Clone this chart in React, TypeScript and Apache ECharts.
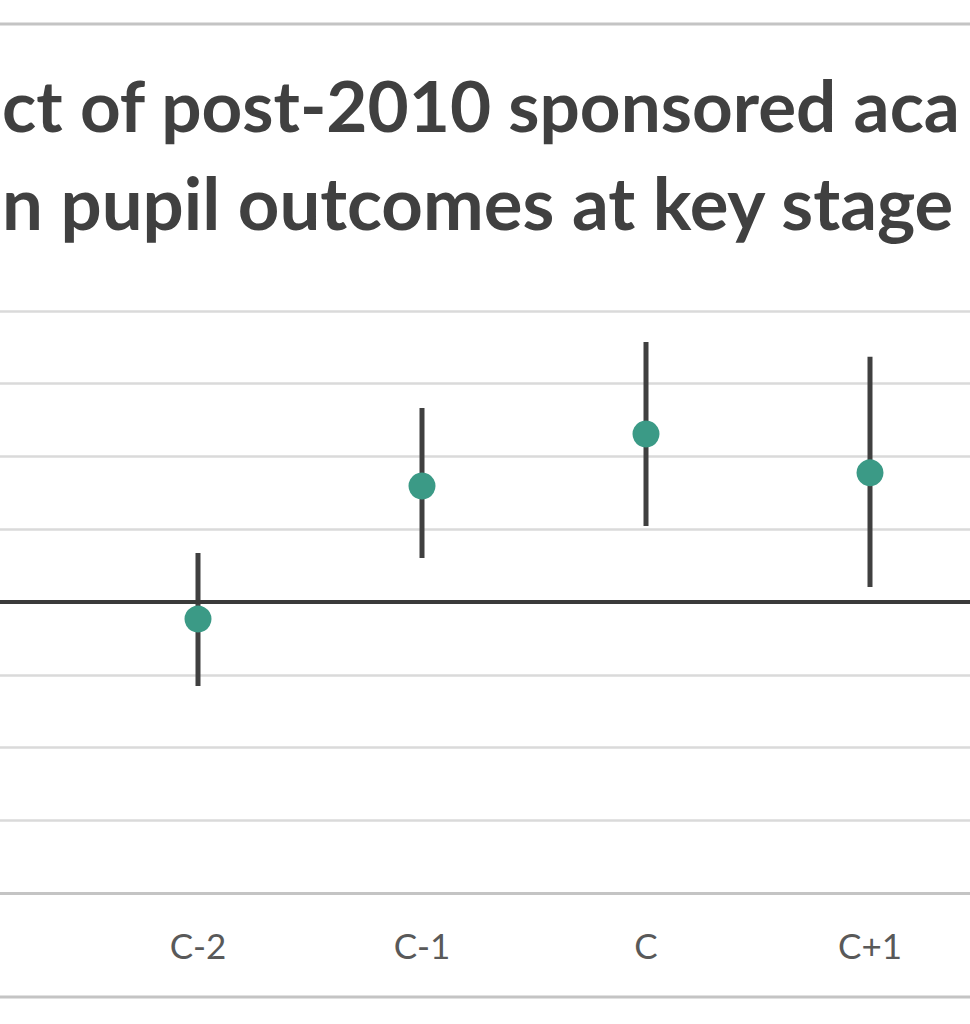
import React, { useEffect, useRef } from "react";
import * as echarts from "echarts";

const categories = ["C-3", "C-2", "C-1", "C", "C+1", "C+2"];
const estimates = [null, -0.0047, 0.0319, 0.0462, 0.0355, null];
const lowerBounds = [null, -0.0231, 0.0121, 0.0209, 0.0041, null];
const upperBounds = [null, 0.0135, 0.0533, 0.0715, 0.0674, null];
const titleLine1 = "ct of post-2010 sponsored aca";
const titleLine2 = "n pupil outcomes at key stage";

const OFFSET = 138;

export default function App() {
  const ref = useRef<HTMLDivElement>(null);
  useEffect(() => {
    if (!ref.current) return;
    const chart = echarts.init(ref.current, null, { renderer: "svg" });
    const errData = categories
      .map((c, i) => [i, lowerBounds[i], upperBounds[i]])
      .filter((d) => d[1] !== null);
    const dotData = categories
      .map((c, i) => [i, estimates[i]])
      .filter((d) => d[1] !== null);
    chart.setOption({
      animation: false,
      backgroundColor: "#ffffff",
      grid: { left: 0, right: 0, top: 311, height: 582 },
      xAxis: {
        type: "category",
        data: categories,
        boundaryGap: true,
        axisLine: { show: true, onZero: false, lineStyle: { color: "#c4c4c4", width: 3 } },
        axisTick: { show: false },
        axisLabel: {
          color: "#595959",
          fontFamily: "Lato",
          fontSize: 35,
          margin: 34,
          interval: 0,
          formatter: (v: string, i: number) => (estimates[i] === null ? "" : v),
        },
        splitLine: { show: false },
      },
      yAxis: {
        type: "value",
        min: -0.08,
        max: 0.08,
        interval: 0.02,
        axisLine: { show: false },
        axisTick: { show: false },
        axisLabel: { show: false },
        splitLine: { show: true, lineStyle: { color: "#dadada", width: 2.5 } },
      },
      graphic: [
        {
          type: "line",
          shape: { x1: OFFSET, y1: 24, x2: OFFSET + 970, y2: 24 },
          style: { stroke: "#c4c4c4", lineWidth: 3 },
        },
        {
          type: "line",
          shape: { x1: OFFSET, y1: 997, x2: OFFSET + 970, y2: 997 },
          style: { stroke: "#c4c4c4", lineWidth: 3 },
        },
        {
          type: "text",
          x: OFFSET + 2,
          y: 140,
          style: {
            text: titleLine1,
            fill: "#404040",
            font: "bold 71px Lato",
            verticalAlign: "bottom",
            align: "left",
          },
        },
        {
          type: "text",
          x: OFFSET + 2,
          y: 238,
          style: {
            text: titleLine2,
            fill: "#404040",
            font: "bold 72.5px Lato",
            verticalAlign: "bottom",
            align: "left",
          },
        },
      ],
      series: [
        {
          type: "line",
          data: [],
          z: 1,
          markLine: {
            silent: true,
            symbol: "none",
            label: { show: false },
            lineStyle: { color: "#3a3a3a", width: 4, type: "solid" },
            data: [{ yAxis: 0 }],
          },
        },
        {
          type: "custom",
          z: 2,
          data: errData,
          renderItem: (params: any, api: any) => {
            const x = api.value(0);
            const p1 = api.coord([x, api.value(1)]);
            const p2 = api.coord([x, api.value(2)]);
            return {
              type: "line",
              shape: { x1: p1[0], y1: p1[1], x2: p2[0], y2: p2[1] },
              style: { stroke: "#404040", lineWidth: 5 },
            };
          },
        },
        {
          type: "scatter",
          z: 3,
          data: dotData,
          symbol: "circle",
          symbolSize: 27,
          itemStyle: { color: "#3b9a86", opacity: 1 },
        },
      ],
    });
    return () => chart.dispose();
  }, []);
  return (
    <div
      style={{
        position: "absolute",
        left: 0,
        top: 0,
        width: 970,
        height: 1024,
        overflow: "hidden",
        background: "#ffffff",
      }}
    >
      <div
        ref={ref}
        style={{ position: "absolute", left: -OFFSET, top: 0, width: 1344, height: 1024 }}
      />
    </div>
  );
}
